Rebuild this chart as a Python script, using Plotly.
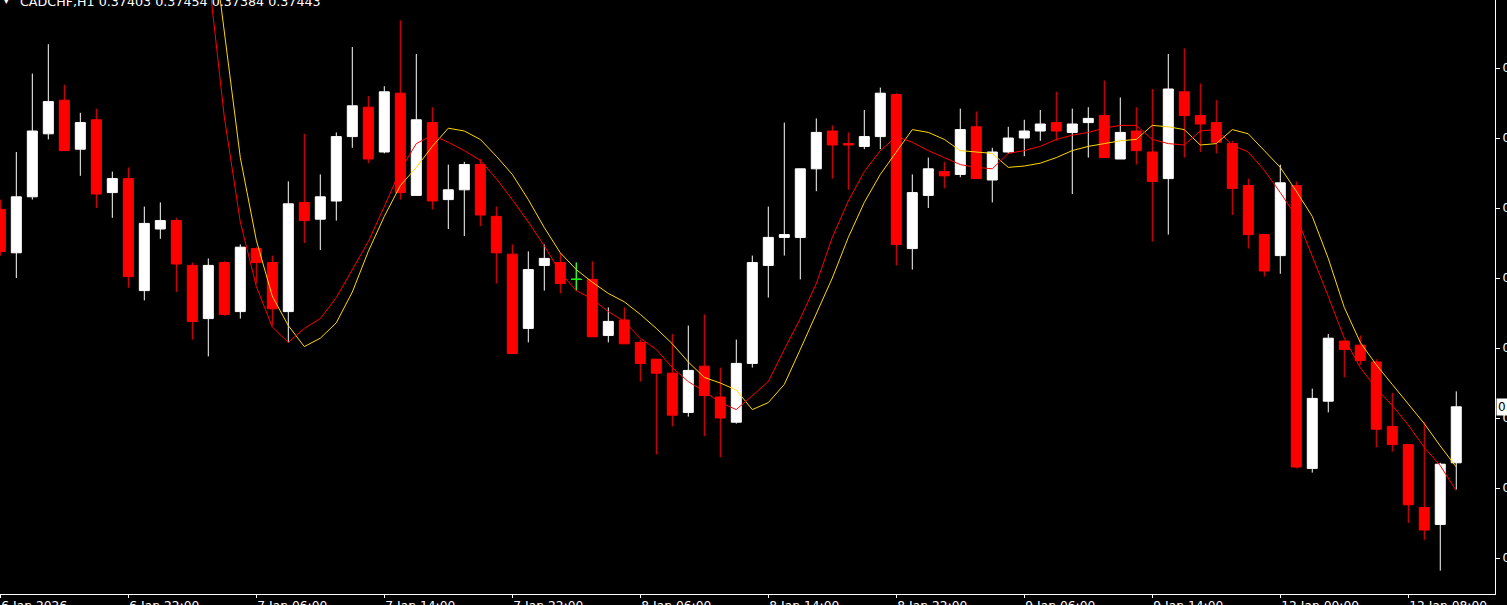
import plotly.graph_objects as go

# ---------------- data (CADCHF, H1) ----------------
bar_index = list(range(92))

opens = [0.37584, 0.37553, 0.37593, 0.37638, 0.37662, 0.37627, 0.37648, 0.37596, 0.37606, 0.37526,
         0.37570, 0.37576, 0.37544, 0.37506, 0.37546, 0.37511, 0.37556, 0.37546, 0.37511, 0.37589,
         0.37577, 0.37590, 0.37636, 0.37657, 0.37625, 0.37667, 0.37594, 0.37646, 0.37591, 0.37598,
         0.37616, 0.37579, 0.37552, 0.37499, 0.37544, 0.37546, 0.37534, 0.37534, 0.37494, 0.37505,
         0.37489, 0.37477, 0.37467, 0.37439, 0.37472, 0.37450, 0.37432, 0.37474, 0.37544, 0.37564,
         0.37564, 0.37613, 0.37640, 0.37631, 0.37629, 0.37636, 0.37666, 0.37556, 0.37594, 0.37611,
         0.37609, 0.37643, 0.37605, 0.37625, 0.37635, 0.37640, 0.37646, 0.37639, 0.37646, 0.37651,
         0.37620, 0.37640, 0.37625, 0.37606, 0.37668, 0.37651, 0.37646, 0.37631, 0.37601, 0.37566,
         0.37551, 0.37601, 0.37399, 0.37447, 0.37490, 0.37487, 0.37475, 0.37429, 0.37416, 0.37371,
         0.37359, 0.37403]
highs = [0.37591, 0.37625, 0.37681, 0.37702, 0.37673, 0.37653, 0.37656, 0.37611, 0.37614, 0.37586,
         0.37589, 0.37578, 0.37546, 0.37549, 0.37547, 0.37559, 0.37557, 0.37551, 0.37604, 0.37638,
         0.37609, 0.37639, 0.37700, 0.37665, 0.37672, 0.37719, 0.37695, 0.37657, 0.37616, 0.37618,
         0.37620, 0.37586, 0.37559, 0.37554, 0.37559, 0.37553, 0.37546, 0.37547, 0.37514, 0.37514,
         0.37491, 0.37477, 0.37495, 0.37501, 0.37509, 0.37471, 0.37491, 0.37551, 0.37586, 0.37646,
         0.37613, 0.37649, 0.37644, 0.37639, 0.37655, 0.37671, 0.37667, 0.37609, 0.37621, 0.37618,
         0.37656, 0.37654, 0.37628, 0.37643, 0.37648, 0.37655, 0.37668, 0.37656, 0.37657, 0.37676,
         0.37664, 0.37657, 0.37670, 0.37695, 0.37699, 0.37674, 0.37662, 0.37633, 0.37606, 0.37566,
         0.37616, 0.37604, 0.37456, 0.37495, 0.37490, 0.37494, 0.37477, 0.37453, 0.37416, 0.37432,
         0.37403, 0.37454]
lows = [0.37551, 0.37535, 0.37591, 0.37634, 0.37626, 0.37608, 0.37585, 0.37578, 0.37528, 0.37519,
        0.37563, 0.37525, 0.37491, 0.37479, 0.37508, 0.37506, 0.37531, 0.37501, 0.37489, 0.37560,
        0.37555, 0.37576, 0.37628, 0.37617, 0.37624, 0.37591, 0.37594, 0.37584, 0.37570, 0.37565,
        0.37572, 0.37531, 0.37481, 0.37489, 0.37526, 0.37524, 0.37526, 0.37493, 0.37489, 0.37488,
        0.37461, 0.37409, 0.37429, 0.37436, 0.37422, 0.37407, 0.37431, 0.37471, 0.37521, 0.37551,
        0.37534, 0.37597, 0.37606, 0.37598, 0.37627, 0.37627, 0.37544, 0.37541, 0.37585, 0.37599,
        0.37607, 0.37606, 0.37589, 0.37624, 0.37622, 0.37633, 0.37633, 0.37595, 0.37621, 0.37621,
        0.37620, 0.37616, 0.37561, 0.37566, 0.37621, 0.37625, 0.37624, 0.37580, 0.37556, 0.37536,
        0.37538, 0.37399, 0.37396, 0.37439, 0.37464, 0.37473, 0.37414, 0.37411, 0.37360, 0.37348,
        0.37326, 0.37384]
closes = [0.37554, 0.37593, 0.37640, 0.37661, 0.37626, 0.37646, 0.37595, 0.37606, 0.37536, 0.37574,
          0.37576, 0.37545, 0.37504, 0.37544, 0.37509, 0.37557, 0.37546, 0.37513, 0.37588, 0.37576,
          0.37593, 0.37636, 0.37658, 0.37620, 0.37668, 0.37596, 0.37648, 0.37590, 0.37598, 0.37616,
          0.37580, 0.37553, 0.37481, 0.37541, 0.37549, 0.37531, 0.37534, 0.37493, 0.37504, 0.37488,
          0.37474, 0.37467, 0.37437, 0.37469, 0.37451, 0.37435, 0.37474, 0.37546, 0.37564, 0.37566,
          0.37613, 0.37639, 0.37630, 0.37630, 0.37636, 0.37667, 0.37559, 0.37596, 0.37613, 0.37608,
          0.37641, 0.37606, 0.37625, 0.37635, 0.37640, 0.37645, 0.37640, 0.37645, 0.37649, 0.37621,
          0.37639, 0.37626, 0.37604, 0.37670, 0.37651, 0.37645, 0.37632, 0.37599, 0.37566, 0.37540,
          0.37603, 0.37400, 0.37449, 0.37492, 0.37484, 0.37476, 0.37427, 0.37416, 0.37373, 0.37355,
          0.37402, 0.37443]

N = None
ma_red = [N, N, N, N, N, N, N, N, N, N, N, N, N,
          0.37753, 0.37650, 0.37575, 0.37529, 0.37500, 0.37489, 0.37499, 0.37506, 0.37521, 0.37541,
          0.37561, 0.37586, 0.37612, 0.37631, 0.37637, 0.37632, 0.37626, 0.37619, 0.37606, 0.37591,
          0.37575, 0.37558, 0.37539, 0.37526, 0.37520, 0.37511, 0.37504, 0.37492, 0.37484, 0.37471,
          0.37461, 0.37454, 0.37446, 0.37441, 0.37451, 0.37461, 0.37484, 0.37506, 0.37531, 0.37564,
          0.37590, 0.37611, 0.37626, 0.37636, 0.37632, 0.37626, 0.37621, 0.37616, 0.37614, 0.37613,
          0.37624, 0.37626, 0.37629, 0.37634, 0.37637, 0.37639, 0.37642, 0.37644, 0.37644, 0.37634,
          0.37631, 0.37630, 0.37640, 0.37641, 0.37630, 0.37625, 0.37612, 0.37596, 0.37579, 0.37551,
          0.37522, 0.37492, 0.37471, 0.37456, 0.37444, 0.37430, 0.37414, 0.37401, 0.37383]
ma_yellow = [N, N, N, N, N, N, N, N, N, N, N, N, N,
             0.37801, 0.37711, 0.37621, 0.37562, 0.37522, 0.37501, 0.37486, 0.37492, 0.37503, 0.37525,
             0.37554, 0.37579, 0.37601, 0.37614, 0.37629, 0.37642, 0.37640, 0.37634, 0.37622, 0.37609,
             0.37591, 0.37571, 0.37553, 0.37541, 0.37532, 0.37524, 0.37518, 0.37509, 0.37499, 0.37488,
             0.37475, 0.37464, 0.37460, 0.37455, 0.37441, 0.37446, 0.37459, 0.37484, 0.37509, 0.37535,
             0.37564, 0.37589, 0.37609, 0.37625, 0.37641, 0.37639, 0.37634, 0.37626, 0.37625, 0.37624,
             0.37614, 0.37615, 0.37617, 0.37621, 0.37626, 0.37629, 0.37631, 0.37633, 0.37634, 0.37644,
             0.37643, 0.37641, 0.37630, 0.37631, 0.37641, 0.37638, 0.37626, 0.37614, 0.37597, 0.37579,
             0.37549, 0.37514, 0.37489, 0.37473, 0.37459, 0.37445, 0.37431, 0.37415, 0.37400]

time_label_index = [0, 8, 16, 24, 32, 40, 48, 56, 64, 72, 80, 88]
time_labels = ["6 Jan 2026", "6 Jan 22:00", "7 Jan 06:00", "7 Jan 14:00", "7 Jan 22:00",
               "8 Jan 06:00", "8 Jan 14:00", "8 Jan 22:00", "9 Jan 06:00", "9 Jan 14:00",
               "12 Jan 00:00", "12 Jan 08:00"]
price_ticks = [0.37335, 0.37385, 0.37435, 0.37485, 0.37535, 0.37585, 0.37635, 0.37685]
price_top_label = 0.37735
price_range = [0.3730929, 0.3773357]
symbol = "CADCHF,H1"

# ---------------- figure ----------------
fig = go.Figure()

fig.add_trace(go.Candlestick(
    x=bar_index, open=opens, high=highs, low=lows, close=closes,
    increasing=dict(line=dict(color="#FFFFFF", width=1), fillcolor="#FFFFFF"),
    decreasing=dict(line=dict(color="#FF0000", width=1), fillcolor="#FF0000"),
    whiskerwidth=0, hoverinfo="skip",
))

# doji bars (open == close) drawn in green, as MT4 does
doji = [i for i in bar_index if opens[i] == closes[i]]
fig.add_trace(go.Candlestick(
    x=doji, open=[opens[i] for i in doji], high=[highs[i] for i in doji],
    low=[lows[i] for i in doji], close=[closes[i] for i in doji],
    increasing=dict(line=dict(color="#00FF00", width=1), fillcolor="#00FF00"),
    decreasing=dict(line=dict(color="#00FF00", width=1), fillcolor="#00FF00"),
    whiskerwidth=0, hoverinfo="skip",
))

fig.add_trace(go.Scatter(x=bar_index, y=ma_yellow, mode="lines",
                         line=dict(color="#FFD700", width=1), hoverinfo="skip", connectgaps=False))
fig.add_trace(go.Scatter(x=bar_index, y=ma_red, mode="lines",
                         line=dict(color="#FF0000", width=1), hoverinfo="skip", connectgaps=False))

font_family = "DejaVu Sans"

fig.update_layout(
    width=1507, height=605,
    margin=dict(l=0, r=12, t=0, b=11, autoexpand=False),
    paper_bgcolor="#000000", plot_bgcolor="#000000",
    showlegend=False,
    boxgap=0.375, boxgroupgap=0,
    hovermode=False,
    xaxis=dict(
        range=[-0.02, 93.42], automargin=False,
        tickmode="array", tickvals=time_label_index, ticktext=time_labels,
        ticks="outside", ticklen=3, tickcolor="#FFFFFF", tickwidth=1,
        ticklabelposition="outside right",
        tickfont=dict(family=font_family, size=12.3, color="#FFFFFF"),
        showline=True, linecolor="#FFFFFF", linewidth=1,
        showgrid=False, zeroline=False,
        rangeslider=dict(visible=False), fixedrange=True,
    ),
    yaxis=dict(
        side="right", range=price_range, automargin=False,
        tickmode="array", tickvals=price_ticks,
        ticktext=[f"{v:.5f}" for v in price_ticks],
        ticks="outside", ticklen=4, tickcolor="#FFFFFF", tickwidth=1,
        tickfont=dict(family=font_family, size=12, color="#FFFFFF"),
        showline=True, linecolor="#FFFFFF", linewidth=1,
        showgrid=False, zeroline=False, fixedrange=True,
    ),
)

last_o, last_h, last_l, last_c = opens[-1], highs[-1], lows[-1], closes[-1]
fig.add_annotation(
    xref="paper", yref="paper", x=0, y=1, xanchor="left", yanchor="middle",
    xshift=19, yshift=-1, showarrow=False, borderpad=0,
    text=f"{symbol} {last_o:.5f} {last_h:.5f} {last_l:.5f} {last_c:.5f}",
    font=dict(family=font_family, size=12.7, color="#FFFFFF"),
)
fig.add_annotation(
    xref="paper", yref="paper", x=0, y=1, xanchor="left", yanchor="middle",
    xshift=3, yshift=-1, showarrow=False, borderpad=0, text="▾",
    font=dict(family=font_family, size=9, color="#FFFFFF"),
)
# price axis label at the very top (cut off) and current price marker
fig.add_annotation(
    xref="paper", yref="y", x=1, y=price_top_label, xanchor="left", yanchor="middle",
    xshift=6, showarrow=False, borderpad=0, text=f"{price_top_label:.5f}",
    font=dict(family=font_family, size=12, color="#FFFFFF"),
)
fig.add_annotation(
    xref="paper", yref="y", x=1, y=last_c, xanchor="left", yanchor="middle",
    xshift=1, showarrow=False, borderpad=1, bgcolor="#FFFFFF",
    text=f"{last_c:.5f}",
    font=dict(family=font_family, size=12, color="#000000"),
)

fig.write_html("out.html", config={"displayModeBar": False},
               post_script="document.body.style.margin='0';document.body.style.overflow='hidden';")
